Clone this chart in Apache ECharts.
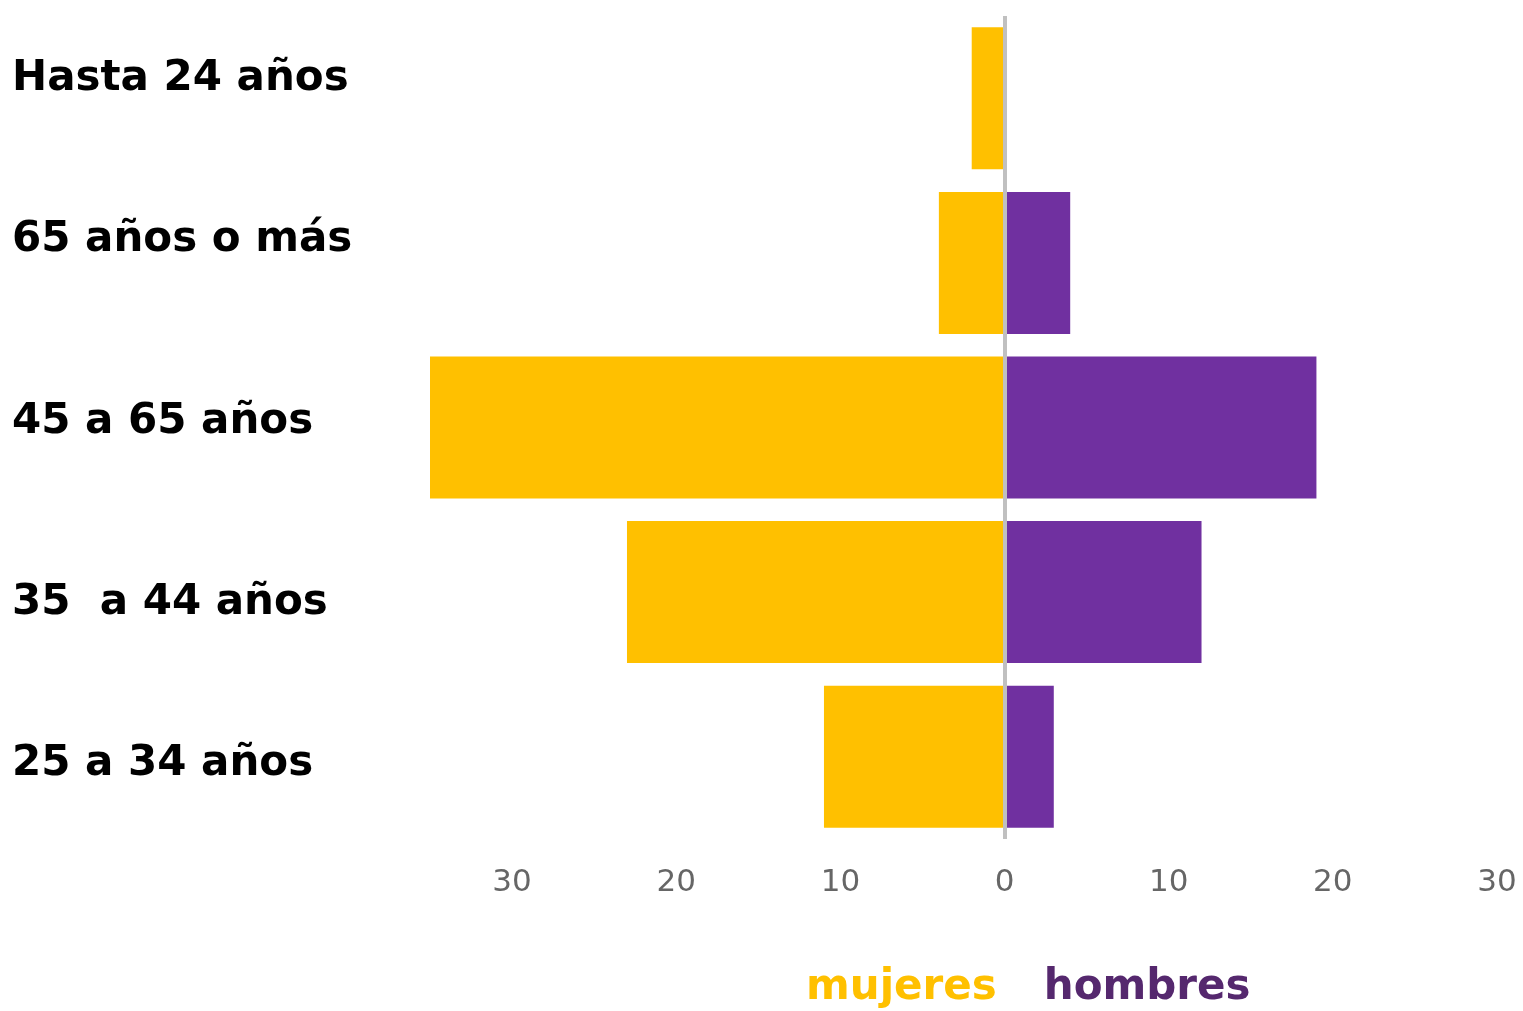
<!DOCTYPE html>
<html>
<head>
<meta charset="utf-8">
<script src="https://cdn.jsdelivr.net/npm/echarts@6/dist/echarts.min.js"></script>
<style>
html,body{margin:0;padding:0;background:#fff;}
#chart{width:1523px;height:1011px;}
</style>
</head>
<body>
<div id="chart"></div>
<script>
// Data (top to bottom)
var categories = ['Hasta 24 años', '65 años o más', '45 a 65 años', '35  a 44 años', '25 a 34 años'];
var mujeres = [2, 4, 35, 23, 11];
var hombres = [0, 4, 19, 12, 3];
var tickValues = [-30, -20, -10, 0, 10, 20, 30];
var seriesNames = ['mujeres', 'hombres'];

// label vertical nudges (px, negative = up)
var labelShift = [-19, -23, -5, 11, 7];
var rich = {};
labelShift.forEach(function (d, i) {
  rich['l' + i] = {
    fontFamily: 'DejaVu Sans', fontWeight: 'bold', fontSize: 42, color: '#000',
    padding: d < 0 ? [0, 0, -2 * d, 0] : [2 * d, 0, 0, 0]
  };
});

var chart = echarts.init(document.getElementById('chart'), null, {renderer: 'canvas'});
chart.setOption({
  animation: false,
  backgroundColor: '#fff',
  grid: {left: 430, right: 26, top: 16, bottom: 172, containLabel: false},
  legend: {
    left: 796, top: 962, itemWidth: 0, itemHeight: 0, itemGap: 42,
    selectedMode: false,
    textStyle: {fontFamily: 'DejaVu Sans', fontWeight: 'bold', fontSize: 42},
    data: [
      {name: seriesNames[0], icon: 'none', textStyle: {color: '#FFC000'}},
      {name: seriesNames[1], icon: 'none', textStyle: {color: '#55286E'}}
    ]
  },
  xAxis: {
    type: 'value', min: -35, max: 30,
    axisLine: {show: false}, axisTick: {show: false}, splitLine: {show: false},
    axisLabel: {
      customValues: tickValues,
      formatter: function (v) { return String(Math.abs(v)); },
      fontFamily: 'DejaVu Sans', fontSize: 31, color: '#666', margin: 28
    }
  },
  yAxis: {
    type: 'category', inverse: true, data: categories,
    axisLine: {show: false}, axisTick: {show: false}, splitLine: {show: false},
    axisLabel: {
      align: 'left', margin: 418,
      formatter: function (v, i) { return '{l' + i + '|' + v + '}'; },
      rich: rich
    }
  },
  series: [
    {
      name: seriesNames[0], type: 'bar', barCategoryGap: '13.7%', barGap: '-100%',
      itemStyle: {color: '#FFC000'},
      data: mujeres.map(function (v) { return -v; })
    },
    {
      name: seriesNames[1], type: 'bar', barCategoryGap: '13.7%', barGap: '-100%',
      itemStyle: {color: '#7030A0'},
      data: hombres,
      markLine: {
        silent: true, symbol: 'none', label: {show: false},
        lineStyle: {color: '#C0C0C0', width: 4, type: 'solid'},
        emphasis: {disabled: true},
        data: [{xAxis: 0}]
      }
    }
  ]
});
</script>
</body>
</html>
